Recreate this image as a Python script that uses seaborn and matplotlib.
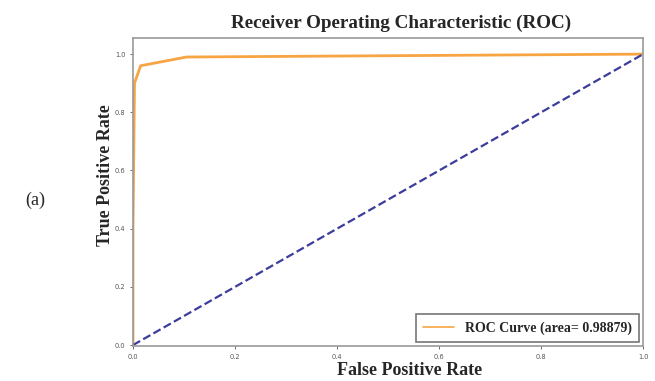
import numpy as np
import matplotlib
matplotlib.use("Agg")
import matplotlib.pyplot as plt
import pandas as pd
import seaborn as sns

fpr = [0.0, 0.0, 0.003, 0.015, 0.105, 1.0]
tpr = [0.0, 0.40, 0.90, 0.96, 0.99, 1.0]
chance = [0.0, 1.0]
roc_auc = 0.98879

sns.set_theme(style="white")
plt.rcParams['font.family'] = ['DejaVu Sans']

df = pd.DataFrame({'fpr': fpr, 'tpr': tpr})
df_chance = pd.DataFrame({'fpr': chance, 'tpr': chance})

fig = plt.figure(figsize=(6.55, 3.81), dpi=100)
ax = fig.add_axes([0.203, 0.092, 0.779, 0.808])

sns.lineplot(data=df, x='fpr', y='tpr', ax=ax, color='#f7a443', lw=2,
             sort=False, estimator=None,
             label='ROC Curve (area= {})'.format(roc_auc))
sns.lineplot(data=df_chance, x='fpr', y='tpr', ax=ax, color='#3c3c9c', lw=1.6,
             linestyle='--', sort=False, estimator=None)

ax.set_xlim(0, 1.0)
ax.set_ylim(-0.003, 1.055)
ax.set_xticks([0.0, 0.2, 0.4, 0.6, 0.8, 1.0])
ax.set_yticks([0.0, 0.2, 0.4, 0.6, 0.8, 1.0])
ax.tick_params(labelsize=4.8, colors='#555555', length=2, width=0.6, bottom=True, left=True)
for s in ax.spines.values():
    s.set_color('#9a9a9a')
    s.set_linewidth(1.2)

serif = ['Liberation Serif', 'DejaVu Serif']
ax.set_xlabel('False Positive Rate', fontsize=13, fontweight='bold', family=serif)
ax.set_ylabel('True Positive Rate', fontsize=13, fontweight='bold', family=serif)
ax.xaxis.set_label_coords(0.543, -0.052)
ax.yaxis.set_label_coords(-0.037, 0.555)
fig.text(0.613, 0.938, 'Receiver Operating Characteristic (ROC)', fontsize=13.8, fontweight='bold',
         family=serif, ha='center', va='center')
fig.text(0.038, 0.475, '(a)', fontsize=13, family=serif, ha='left', va='center')

leg = ax.legend(loc='lower right', prop={'family': serif, 'weight': 'bold', 'size': 10},
                frameon=True, fancybox=False, edgecolor='#555555', handlelength=2.2,
                borderaxespad=0.3, borderpad=0.5)
leg.get_frame().set_linewidth(1.2)
for line in leg.get_lines():
    line.set_linewidth(1.2)

fig.savefig('out.png', dpi=100)
